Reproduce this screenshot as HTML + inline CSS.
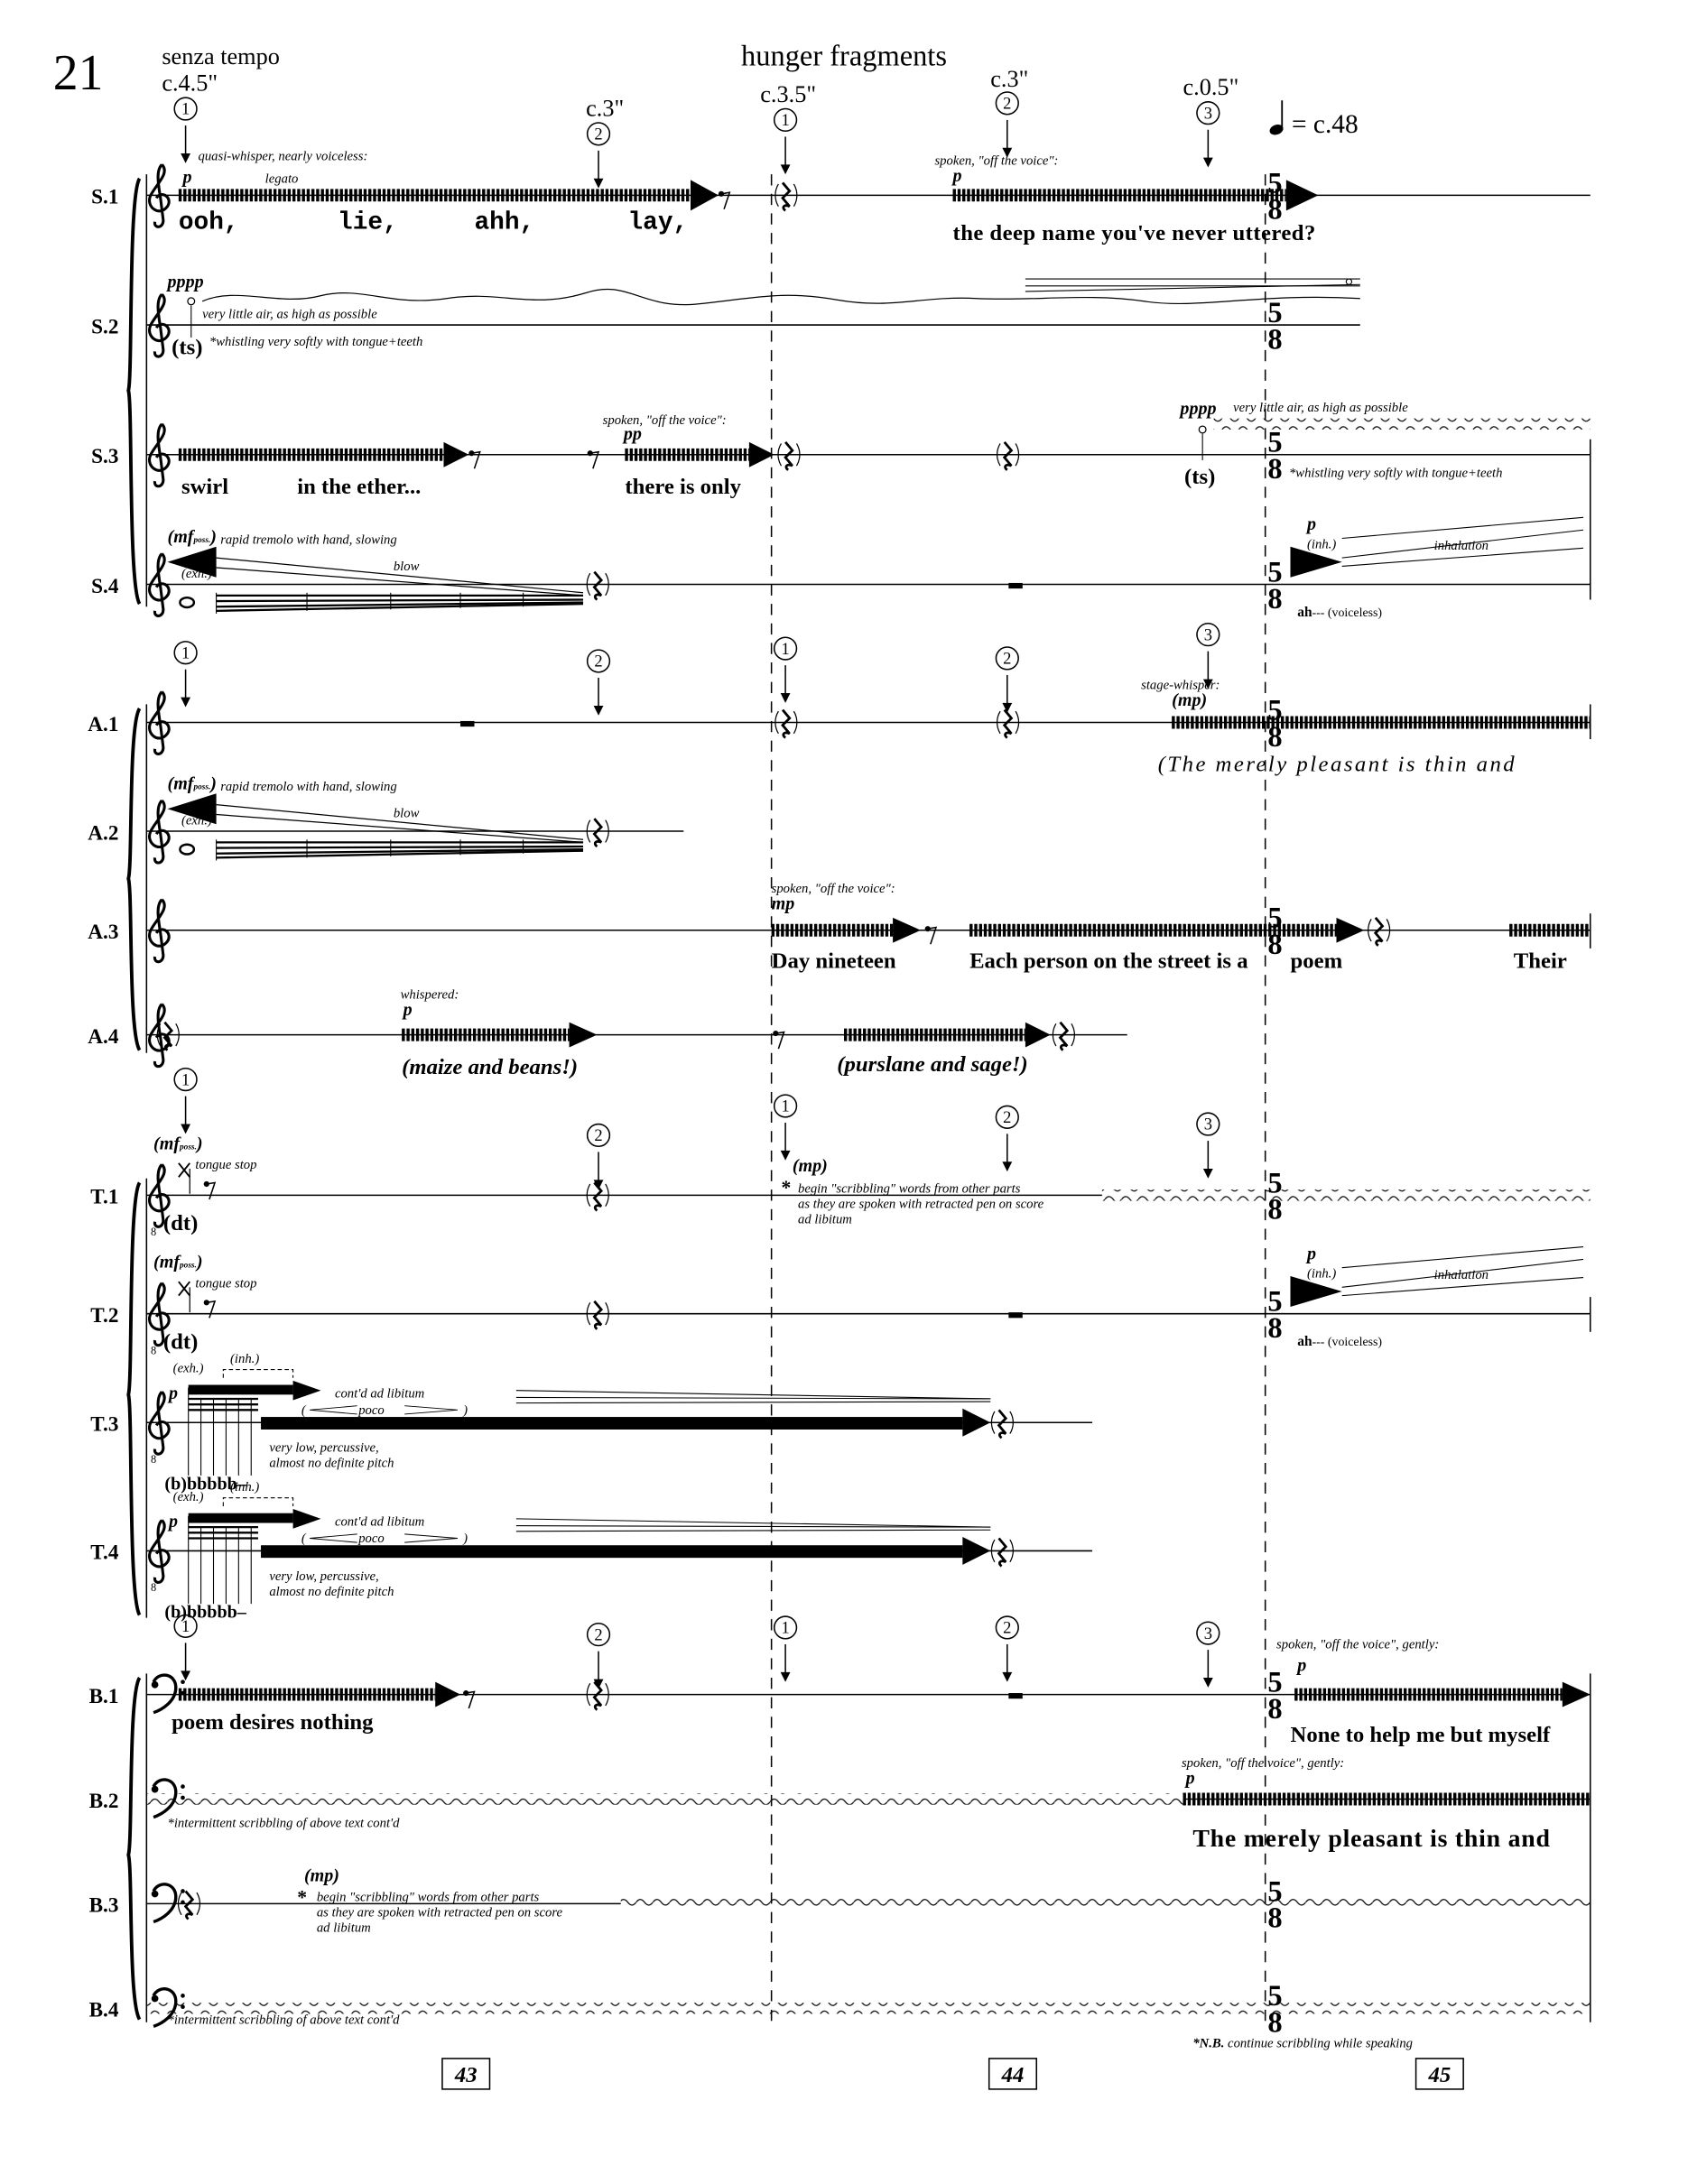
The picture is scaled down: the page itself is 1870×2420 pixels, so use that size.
<!DOCTYPE html>
<html><head><meta charset="utf-8"><style>
html,body{margin:0;padding:0;background:#fff}
svg{display:block}
text{font-family:"Liberation Serif",serif;fill:#000}
.i{font-style:italic;font-size:9.5px}
.d{font-style:italic;font-weight:bold;font-size:13px}
.l{font-weight:bold;font-size:16px}
.ts{font-weight:bold;font-size:21px}
.lab{font-size:15px;font-weight:bold}
</style></head><body>
<svg width="1870" height="2420" viewBox="0 0 1210 1566" xmlns="http://www.w3.org/2000/svg">
<defs>
<pattern id="wave" x="0" y="0" width="12" height="8" patternUnits="userSpaceOnUse">
<path d="M0 4 Q3 0 6 4 T12 4" fill="none" stroke="#000" stroke-width="0.8"/>
</pattern>
<symbol id="tc" overflow="visible"><path d="M6 -22 C12 -16 2 -8 -2 0 C-6 8 4 16 10 8 C14 2 6 -4 2 2 M6 -22 C2 -18 3 -10 5 2 L7 18 C7 24 0 24 1 19" fill="none" stroke="#000" stroke-width="2"/></symbol>
<symbol id="bc" overflow="visible"><path d="M0 -6 C4 -14 16 -12 16 -2 C16 8 6 14 0 16" fill="none" stroke="#000" stroke-width="2.2"/><circle cx="1" cy="-4" r="2.5"/><circle cx="21" cy="-6" r="1.5"/><circle cx="21" cy="2" r="1.5"/></symbol>
<symbol id="qr" overflow="visible"><path d="M-2 -9 L3 -3 L-2 2 L3 8 C-1 6 -3 9 0 11" fill="none" stroke="#000" stroke-width="1.8"/><path d="M-5 -8 C-8 -3 -8 3 -5 8 M6 -8 C9 -3 9 3 6 8" fill="none" stroke="#000" stroke-width="0.8"/></symbol>
<symbol id="er" overflow="visible"><circle cx="-2" cy="-3" r="2"/><path d="M-2 -3 L4 -4 L0 8" fill="none" stroke="#000" stroke-width="1"/></symbol>
<symbol id="arr" overflow="visible"><line x1="0" y1="0" x2="0" y2="26" stroke="#000" stroke-width="1"/><path d="M-3.5 20 L0 27 L3.5 20 Z"/></symbol>
</defs>

<!-- header -->
<text x="38" y="64" font-size="36">21</text>
<text x="116" y="46" font-size="17">senza tempo</text>
<text x="116" y="65" font-size="17">c.4.5"</text>
<text x="605" y="47" font-size="21" text-anchor="middle">hunger fragments</text>
<text x="420" y="83" font-size="17">c.3"</text>
<text x="545" y="73" font-size="17">c.3.5"</text>
<text x="710" y="62" font-size="17">c.3"</text>
<text x="848" y="68" font-size="17">c.0.5"</text>
<ellipse cx="915" cy="93" rx="5" ry="3.5" transform="rotate(-20 915 93)"/>
<line x1="919" y1="92" x2="919" y2="72" stroke="#000" stroke-width="1.2"/>
<text x="926" y="95" font-size="19">= c.48</text>

<!-- cue markers -->
<g font-size="12" text-anchor="middle">
<g fill="none" stroke="#000" stroke-width="1">
<circle cx="133" cy="78" r="8"/><circle cx="429" cy="96" r="8"/><circle cx="563" cy="86" r="8"/><circle cx="722" cy="74" r="8"/><circle cx="866" cy="81" r="8"/>
<circle cx="133" cy="468" r="8"/><circle cx="429" cy="474" r="8"/><circle cx="563" cy="465" r="8"/><circle cx="722" cy="472" r="8"/><circle cx="866" cy="455" r="8"/>
<circle cx="133" cy="774" r="8"/><circle cx="429" cy="814" r="8"/><circle cx="563" cy="793" r="8"/><circle cx="722" cy="801" r="8"/><circle cx="866" cy="806" r="8"/>
<circle cx="133" cy="1166" r="8"/><circle cx="429" cy="1172" r="8"/><circle cx="563" cy="1167" r="8"/><circle cx="722" cy="1167" r="8"/><circle cx="866" cy="1171" r="8"/>
</g>
<text x="133" y="82">1</text><text x="429" y="100">2</text><text x="563" y="90">1</text><text x="722" y="78">2</text><text x="866" y="85">3</text>
<text x="133" y="472">1</text><text x="429" y="478">2</text><text x="563" y="469">1</text><text x="722" y="476">2</text><text x="866" y="459">3</text>
<text x="133" y="778">1</text><text x="429" y="818">2</text><text x="563" y="797">1</text><text x="722" y="805">2</text><text x="866" y="810">3</text>
<text x="133" y="1170">1</text><text x="429" y="1176">2</text><text x="563" y="1171">1</text><text x="722" y="1171">2</text><text x="866" y="1175">3</text>
</g>
<use href="#arr" x="133" y="90"/><use href="#arr" x="429" y="108"/><use href="#arr" x="563" y="98"/><use href="#arr" x="722" y="86"/><use href="#arr" x="866" y="93"/>
<use href="#arr" x="133" y="480"/><use href="#arr" x="429" y="486"/><use href="#arr" x="563" y="477"/><use href="#arr" x="722" y="484"/><use href="#arr" x="866" y="467"/>
<use href="#arr" x="133" y="786"/><use href="#arr" x="429" y="826"/><use href="#arr" x="563" y="805"/><use href="#arr" x="722" y="813"/><use href="#arr" x="866" y="818"/>
<use href="#arr" x="133" y="1178"/><use href="#arr" x="429" y="1184"/><use href="#arr" x="563" y="1179"/><use href="#arr" x="722" y="1179"/><use href="#arr" x="866" y="1183"/>

<!-- dashed barlines -->
<g stroke="#000" stroke-width="1" stroke-dasharray="8 6">
<line x1="553" y1="125" x2="553" y2="1450"/><line x1="907" y1="125" x2="907" y2="1450"/>
</g>

<!-- staff lines -->
<g stroke="#000" stroke-width="1">
<line x1="105" y1="140" x2="1140" y2="140"/>
<line x1="105" y1="233" x2="975" y2="233"/>
<line x1="105" y1="326" x2="1140" y2="326"/>
<line x1="105" y1="419" x2="1140" y2="419"/>
<line x1="105" y1="518" x2="1140" y2="518"/>
<line x1="105" y1="596" x2="490" y2="596"/>
<line x1="105" y1="667" x2="1140" y2="667"/>
<line x1="105" y1="742" x2="808" y2="742"/>
<line x1="105" y1="857" x2="790" y2="857"/>
<line x1="105" y1="942" x2="1140" y2="942"/>
<line x1="105" y1="1020" x2="783" y2="1020"/>
<line x1="105" y1="1112" x2="783" y2="1112"/>
<line x1="105" y1="1215" x2="1140" y2="1215"/>
<line x1="848" y1="1290" x2="1140" y2="1290"/>
<line x1="105" y1="1365" x2="445" y2="1365"/>
<!-- system barlines -->
<line x1="105" y1="125" x2="105" y2="435"/>
<line x1="105" y1="505" x2="105" y2="755"/>
<line x1="105" y1="845" x2="105" y2="1160"/>
<line x1="105" y1="1200" x2="105" y2="1450"/>
<line x1="1140" y1="315" x2="1140" y2="430"/>
<line x1="1140" y1="505" x2="1140" y2="530"/>
<line x1="1140" y1="655" x2="1140" y2="680"/>
<line x1="1140" y1="930" x2="1140" y2="955"/>
<line x1="1140" y1="1200" x2="1140" y2="1450"/>
</g>
<!-- braces -->
<g fill="none" stroke="#000" stroke-width="2.5">
<path d="M100 128 C92 140 95 270 92 280 C95 290 92 420 100 433"/>
<path d="M100 508 C92 520 95 620 92 630 C95 640 92 740 100 753"/>
<path d="M100 848 C92 860 95 990 92 1000 C95 1010 92 1145 100 1158"/>
<path d="M100 1203 C92 1215 95 1320 92 1330 C95 1340 92 1435 100 1448"/>
</g>
<!-- labels -->
<g class="lab" text-anchor="end">
<text x="85" y="146">S.1</text><text x="85" y="239">S.2</text><text x="85" y="332">S.3</text><text x="85" y="425">S.4</text>
<text x="85" y="524">A.1</text><text x="85" y="602">A.2</text><text x="85" y="673">A.3</text><text x="85" y="748">A.4</text>
<text x="85" y="863">T.1</text><text x="85" y="948">T.2</text><text x="85" y="1026">T.3</text><text x="85" y="1118">T.4</text>
<text x="85" y="1221">B.1</text><text x="85" y="1296">B.2</text><text x="85" y="1371">B.3</text><text x="85" y="1446">B.4</text>
</g>
<!-- clefs -->
<use href="#tc" x="110" y="140"/><use href="#tc" x="110" y="233"/><use href="#tc" x="110" y="326"/><use href="#tc" x="110" y="419"/>
<use href="#tc" x="110" y="518"/><use href="#tc" x="110" y="596"/><use href="#tc" x="110" y="667"/><use href="#tc" x="110" y="742"/>
<use href="#tc" x="110" y="857"/><use href="#tc" x="110" y="942"/><use href="#tc" x="110" y="1020"/><use href="#tc" x="110" y="1112"/>
<g font-size="8"><text x="108" y="886">8</text><text x="108" y="971">8</text><text x="108" y="1049">8</text><text x="108" y="1141">8</text></g>
<use href="#bc" x="110" y="1212"/><use href="#bc" x="110" y="1287"/><use href="#bc" x="110" y="1362"/><use href="#bc" x="110" y="1437"/>

<!-- time signatures -->
<g class="ts" text-anchor="middle">
<text x="914" y="138">5</text><text x="914" y="157">8</text>
<text x="914" y="231">5</text><text x="914" y="250">8</text>
<text x="914" y="324">5</text><text x="914" y="343">8</text>
<text x="914" y="417">5</text><text x="914" y="436">8</text>
<text x="914" y="516">5</text><text x="914" y="535">8</text>
<text x="914" y="665">5</text><text x="914" y="684">8</text>
<text x="914" y="855">5</text><text x="914" y="874">8</text>
<text x="914" y="940">5</text><text x="914" y="959">8</text>
<text x="914" y="1213">5</text><text x="914" y="1232">8</text>
<text x="914" y="1363">5</text><text x="914" y="1382">8</text>
<text x="914" y="1438">5</text><text x="914" y="1457">8</text>
</g>

<!-- tremolo bars -->
<g stroke="#000" stroke-width="9" stroke-dasharray="2.2 1.2">
<line x1="128" y1="140" x2="495" y2="140"/>
<line x1="683" y1="140" x2="922" y2="140"/>
<line x1="128" y1="326" x2="318" y2="326"/>
<line x1="448" y1="326" x2="537" y2="326"/>
<line x1="840" y1="518" x2="1140" y2="518"/>
<line x1="553" y1="667" x2="640" y2="667"/>
<line x1="695" y1="667" x2="958" y2="667"/>
<line x1="1082" y1="667" x2="1140" y2="667"/>
<line x1="288" y1="742" x2="408" y2="742"/>
<line x1="605" y1="742" x2="735" y2="742"/>
<line x1="128" y1="1215" x2="312" y2="1215"/>
<line x1="928" y1="1215" x2="1120" y2="1215"/>
<line x1="848" y1="1290" x2="1140" y2="1290"/>
</g>
<!-- arrowheads -->
<path d="M495 129 L515 140 L495 151Z"/><path d="M922 129 L945 140 L922 151Z"/>
<path d="M318 317 L336 326 L318 335Z"/><path d="M537 317 L555 326 L537 335Z"/>
<path d="M640 658 L660 667 L640 676Z"/><path d="M958 658 L978 667 L958 676Z"/>
<path d="M408 733 L428 742 L408 751Z"/><path d="M735 733 L753 742 L735 751Z"/>
<path d="M312 1206 L330 1215 L312 1224Z"/><path d="M1120 1206 L1140 1215 L1120 1224Z"/>

<!-- rests -->
<use href="#er" x="519" y="142"/><use href="#qr" x="563" y="140"/>
<use href="#er" x="340" y="328"/><use href="#er" x="425" y="328"/><use href="#qr" x="565" y="326"/><use href="#qr" x="722" y="326"/>
<use href="#qr" x="428" y="419"/><rect x="723" y="418" width="10" height="4"/>
<rect x="330" y="517" width="10" height="4"/><use href="#qr" x="563" y="518"/><use href="#qr" x="722" y="518"/>
<use href="#qr" x="428" y="596"/>
<use href="#er" x="667" y="669"/><use href="#qr" x="988" y="667"/>
<use href="#qr" x="120" y="742"/><use href="#er" x="558" y="744"/><use href="#qr" x="762" y="742"/>
<use href="#qr" x="428" y="857"/>
<use href="#qr" x="428" y="942"/><rect x="723" y="941" width="10" height="4"/>
<use href="#qr" x="718" y="1020"/><use href="#qr" x="718" y="1112"/>
<use href="#er" x="336" y="1217"/><use href="#qr" x="428" y="1215"/><rect x="723" y="1214" width="10" height="4"/>
<use href="#qr" x="135" y="1365"/>

<!-- waves -->
<rect x="142" y="206" width="833" height="16" fill="none"/>
<path d="M145 216 C170 205 200 220 230 212 C260 205 280 220 320 214 C360 208 380 222 420 210 C450 200 460 222 500 218 C540 214 560 208 600 215 C640 222 660 212 700 214 C740 216 780 210 820 216 C860 222 900 210 975 214" fill="none" stroke="#000" stroke-width="0.8"/>
<rect x="870" y="300" width="270" height="8" fill="url(#wave)"/>
<rect x="790" y="853" width="350" height="8" fill="url(#wave)"/>
<rect x="105" y="1286" width="743" height="8" fill="url(#wave)"/>
<rect x="445" y="1361" width="695" height="8" fill="url(#wave)"/>
<rect x="105" y="1436" width="1035" height="8" fill="url(#wave)"/>

<!-- S.1 texts -->
<text x="142" y="115" class="i">quasi-whisper, nearly voiceless:</text>
<text x="131" y="131" class="d">p</text>
<text x="190" y="131" class="i">legato</text>
<g font-family="Liberation Mono" font-weight="bold" font-size="18">
<text x="128" y="164" style="font-family:'Liberation Mono',monospace">ooh,</text>
<text x="242" y="164" style="font-family:'Liberation Mono',monospace">lie,</text>
<text x="340" y="164" style="font-family:'Liberation Mono',monospace">ahh,</text>
<text x="450" y="164" style="font-family:'Liberation Mono',monospace">lay,</text>
</g>
<text x="670" y="118" class="i">spoken, "off the voice":</text>
<text x="683" y="130" class="d">p</text>
<text x="683" y="172" class="l" textLength="260">the deep name you've never uttered?</text>

<!-- S.2 -->
<text x="120" y="206" class="d">pppp</text>
<circle cx="137" cy="216" r="2.5" fill="none" stroke="#000" stroke-width="0.8"/><line x1="137" y1="219" x2="137" y2="242" stroke="#000" stroke-width="0.7"/>
<text x="145" y="228" class="i">very little air, as high as possible</text>
<text x="123" y="254" class="l">(ts)</text>
<text x="150" y="248" class="i">*whistling very softly with tongue+teeth</text>
<g stroke="#000" stroke-width="0.7"><line x1="735" y1="200" x2="975" y2="200"/><line x1="735" y1="205" x2="975" y2="205"/><line x1="735" y1="209" x2="975" y2="204"/></g>
<circle cx="967" cy="202" r="2" fill="none" stroke="#000" stroke-width="0.7"/>

<!-- S.3 -->
<text x="130" y="354" class="l">swirl</text>
<text x="213" y="354" class="l">in the ether...</text>
<text x="432" y="304" class="i">spoken, "off the voice":</text>
<text x="447" y="315" class="d">pp</text>
<text x="448" y="354" class="l">there is only</text>
<text x="846" y="297" class="d">pppp</text>
<text x="884" y="295" class="i">very little air, as high as possible</text>
<circle cx="862" cy="308" r="2.5" fill="none" stroke="#000" stroke-width="0.8"/><line x1="862" y1="311" x2="862" y2="330" stroke="#000" stroke-width="0.7"/>
<text x="849" y="347" class="l">(ts)</text>
<text x="924" y="342" class="i">*whistling very softly with tongue+teeth</text>

<!-- S.4 / A.2 tremolo figures -->
<g id="trem">
<text x="120" y="389" class="d" font-size="11">(mf<tspan font-size="6">poss.</tspan>)</text>
<text x="158" y="390" class="i">rapid tremolo with hand, slowing</text>
<path d="M120 403 L155 392 L155 414Z"/>
<text x="130" y="414" class="i">(exh.)</text>
<line x1="155" y1="400" x2="418" y2="425" stroke="#000" stroke-width="0.8"/>
<line x1="155" y1="407" x2="418" y2="427" stroke="#000" stroke-width="0.8"/>
<text x="282" y="409" class="i" font-size="8">blow</text>
<ellipse cx="134" cy="432" rx="5" ry="3.5" fill="none" stroke="#000" stroke-width="1.6"/>
<line x1="155" y1="427" x2="418" y2="427" stroke="#000" stroke-width="1.5"/>
<line x1="155" y1="431" x2="418" y2="430" stroke="#000" stroke-width="1.5"/>
<line x1="155" y1="435" x2="418" y2="432" stroke="#000" stroke-width="1.5"/>
<path d="M155 438 L418 433" stroke="#000" stroke-width="1.5"/>
<g stroke="#000" stroke-width="0.7"><line x1="155" y1="425" x2="155" y2="440"/><line x1="220" y1="425" x2="220" y2="438"/><line x1="280" y1="425" x2="280" y2="437"/><line x1="330" y1="425" x2="330" y2="436"/><line x1="375" y1="425" x2="375" y2="435"/></g>
</g>
<use href="#trem" x="0" y="177"/>
<!-- inhalation (S.4, T.2) -->
<g id="inh">
<path d="M925 392 L962 403 L925 414Z"/>
<text x="937" y="380" class="d">p</text>
<text x="937" y="393" class="i">(inh.)</text>
<g stroke="#000" stroke-width="0.7"><line x1="962" y1="400" x2="1135" y2="380"/><line x1="962" y1="406" x2="1135" y2="393"/><line x1="962" y1="386" x2="1135" y2="371"/></g>
<text x="1028" y="394" class="i">inhalation</text>
<text x="930" y="442" font-size="10" font-weight="bold">ah<tspan font-weight="normal" font-size="9">--- (voiceless)</tspan></text>
</g>
<use href="#inh" x="0" y="523"/>

<!-- A.1 -->
<text x="818" y="494" class="i">stage-whisper:</text>
<text x="840" y="506" class="d" font-size="11">(mp)</text>
<text x="830" y="553" font-size="16" font-style="italic" letter-spacing="1.6">(The merely pleasant is thin and</text>

<!-- A.3 -->
<text x="553" y="640" class="i">spoken, "off the voice":</text>
<text x="553" y="652" class="d">mp</text>
<text x="553" y="694" class="l">Day nineteen</text>
<text x="695" y="694" class="l">Each person on the street is a</text>
<text x="925" y="694" class="l">poem</text>
<text x="1085" y="694" class="l">Their</text>

<!-- A.4 -->
<text x="287" y="716" class="i">whispered:</text>
<text x="289" y="728" class="d">p</text>
<text x="288" y="770" class="l" font-style="italic">(maize and beans!)</text>
<text x="600" y="768" class="l" font-style="italic">(purslane and sage!)</text>

<!-- T.1 / T.2 -->
<g id="ts1">
<text x="110" y="824" class="d" font-size="10">(mf<tspan font-size="6">poss.</tspan>)</text>
<text x="140" y="838" class="i">tongue stop</text>
<path d="M128 834 L136 844 M136 834 L128 844" stroke="#000" stroke-width="1.2"/>
<line x1="136" y1="838" x2="136" y2="856" stroke="#000" stroke-width="0.8"/>
<use href="#er" x="150" y="852"/>
<text x="117" y="882" class="l">(dt)</text>
</g>
<use href="#ts1" x="0" y="85"/>
<text x="568" y="840" class="d" font-size="11">(mp)</text>
<text x="560" y="856" font-size="14" font-weight="bold">*</text>
<text x="572" y="855" class="i">begin "scribbling" words from other parts</text>
<text x="572" y="866" class="i">as they are spoken with retracted pen on score</text>
<text x="572" y="877" class="i">ad libitum</text>

<!-- T.3 / T.4 -->
<g id="bb">
<text x="124" y="984" class="i">(exh.)</text><text x="165" y="977" class="i">(inh.)</text>
<path d="M160 988 L160 982 L210 982 L210 988" fill="none" stroke="#000" stroke-width="0.7" stroke-dasharray="3 2"/>
<text x="121" y="1003" class="d">p</text>
<rect x="135" y="993" width="75" height="7"/>
<path d="M210 990 L230 997 L210 1004Z"/>
<g stroke="#000" stroke-width="1.5"><line x1="135" y1="1003" x2="185" y2="1003"/><line x1="135" y1="1007" x2="185" y2="1007"/><line x1="135" y1="1011" x2="185" y2="1011"/></g>
<g stroke="#000" stroke-width="0.7"><line x1="135" y1="995" x2="135" y2="1058"/><line x1="144" y1="1003" x2="144" y2="1058"/><line x1="153" y1="1003" x2="153" y2="1058"/><line x1="162" y1="1003" x2="162" y2="1058"/><line x1="171" y1="1003" x2="171" y2="1058"/><line x1="180" y1="1003" x2="180" y2="1058"/></g>
<text x="240" y="1002" class="i">cont'd ad libitum</text>
<text x="216" y="1014" class="i">(</text><text x="257" y="1014" class="i">poco</text><text x="332" y="1014" class="i">)</text>
<path d="M222 1011 L256 1008 M222 1011 L256 1014 M290 1008 L328 1011 L290 1014" stroke="#000" stroke-width="0.6" fill="none"/>
<rect x="187" y="1016" width="503" height="9"/>
<path d="M690 1010 L710 1020 L690 1030Z"/>
<g stroke="#000" stroke-width="0.7"><line x1="370" y1="997" x2="710" y2="1003"/><line x1="370" y1="1002" x2="710" y2="1003"/><line x1="370" y1="1006" x2="710" y2="1005"/></g>
<text x="193" y="1041" class="i">very low, percussive,</text>
<text x="193" y="1052" class="i">almost no definite pitch</text>
<text x="118" y="1068" font-size="13" font-weight="bold">(b)bbbbb–</text>
</g>
<use href="#bb" x="0" y="92"/>

<!-- B.1 -->
<text x="123" y="1240" class="l">poem desires nothing</text>
<text x="915" y="1182" class="i">spoken, "off the voice", gently:</text>
<text x="930" y="1198" class="d">p</text>
<text x="925" y="1249" class="l">None to help me but myself</text>
<!-- B.2 -->
<text x="120" y="1310" class="i">*intermittent scribbling of above text cont'd</text>
<text x="847" y="1267" class="i">spoken, "off the voice", gently:</text>
<text x="850" y="1279" class="d">p</text>
<text x="855" y="1324" font-size="18" font-weight="bold" letter-spacing="0.5">The merely pleasant is thin and</text>
<!-- B.3 -->
<text x="218" y="1349" class="d" font-size="11">(mp)</text>
<text x="213" y="1365" font-size="14" font-weight="bold">*</text>
<text x="227" y="1363" class="i">begin "scribbling" words from other parts</text>
<text x="227" y="1374" class="i">as they are spoken with retracted pen on score</text>
<text x="227" y="1385" class="i">ad libitum</text>
<!-- B.4 -->
<text x="120" y="1451" class="i">*intermittent scribbling of above text cont'd</text>
<text x="855" y="1468" class="i"><tspan font-weight="bold">*N.B.</tspan> continue scribbling while speaking</text>

<!-- measure numbers -->
<g fill="none" stroke="#000" stroke-width="1"><rect x="317" y="1476" width="34" height="22"/><rect x="709" y="1476" width="34" height="22"/><rect x="1015" y="1476" width="34" height="22"/></g>
<g font-size="16" font-weight="bold" font-style="italic" text-anchor="middle"><text x="334" y="1493">43</text><text x="726" y="1493">44</text><text x="1032" y="1493">45</text></g>
</svg>
</body></html>
